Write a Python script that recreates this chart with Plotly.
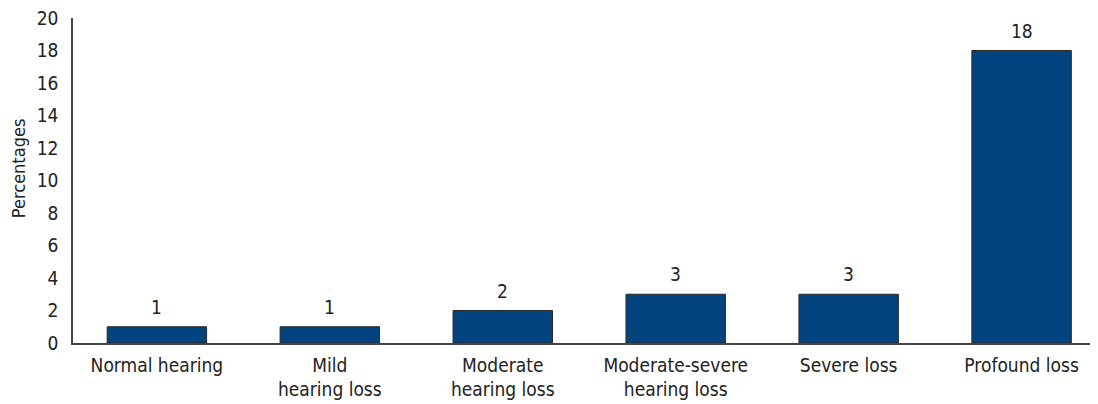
import plotly.graph_objects as go

categories = ["Normal hearing", "Mild<br>hearing loss", "Moderate<br>hearing loss",
              "Moderate-severe<br>hearing loss", "Severe loss", "Profound loss"]
values = [1, 1, 2, 3, 3, 18]
y_ticks = [0, 2, 4, 6, 8, 10, 12, 14, 16, 18, 20]
y_title = "Percentages"

FONT = "DejaVu Sans Condensed"
TXT = "#222222"

xs = list(range(len(categories)))
fig = go.Figure(go.Bar(
    x=xs,
    y=values,
    width=0.575,
    marker=dict(color="#03437f", line=dict(color="#2a2a2a", width=1)),
    hoverinfo="skip",
))

for xv, v in zip(xs, values):
    fig.add_annotation(x=xv, y=v, text=str(v), showarrow=False, yanchor="bottom",
                       yshift=7, font=dict(family=FONT, size=19, color=TXT))

fig.add_annotation(xref="paper", yref="paper", x=0, y=0.535, xshift=-55,
                   text=y_title, textangle=-90, showarrow=False,
                   xanchor="center", yanchor="middle",
                   font=dict(family=FONT, size=18, color=TXT))

fig.update_layout(
    width=1098, height=404,
    margin=dict(l=65, r=0, t=10, b=69),
    paper_bgcolor="white", plot_bgcolor="white",
    font=dict(family=FONT, size=19, color=TXT),
    showlegend=False,
)
fig.update_xaxes(
    range=[-0.485, 5.488], automargin=False,
    tickmode="array", tickvals=xs, ticktext=categories,
    showline=True, linecolor="#444", linewidth=1.5, ticks="", showgrid=False,
    ticklabelstandoff=4, ticklabeloverflow="allow",
    tickfont=dict(family=FONT, size=19, color=TXT),
)
fig.update_yaxes(
    range=[0, 20], automargin=False, tickmode="array", tickvals=y_ticks,
    showline=True, linecolor="#444", linewidth=1.5, ticks="", showgrid=False,
    zeroline=False, ticklabelstandoff=9, ticklabeloverflow="allow",
    tickfont=dict(family=FONT, size=19, color=TXT),
)

fig.write_html("out.html")
